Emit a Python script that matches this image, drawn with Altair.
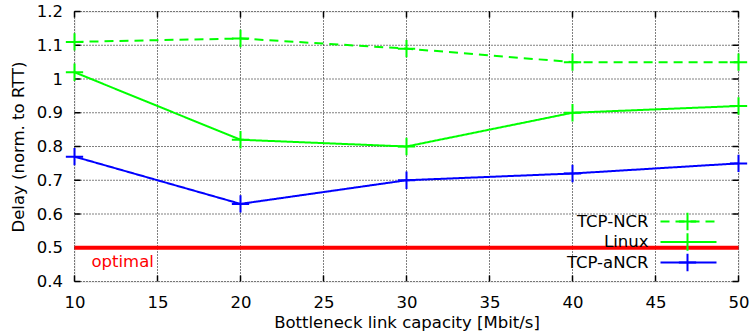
import altair as alt
import pandas as pd

# Bottleneck link capacities (Mbit/s)
capacity = [10, 20, 30, 40, 50]

# Mean delay normalised to RTT, per algorithm
tcp_ncr = [1.11, 1.12, 1.09, 1.05, 1.05]
linux = [1.02, 0.82, 0.80, 0.90, 0.92]
tcp_ancr = [0.77, 0.63, 0.70, 0.72, 0.75]

series_names = ["TCP-NCR", "Linux", "TCP-aNCR"]
series_colors = ["#00ff00", "#00ff00", "#0000ff"]
series_dash = [[9, 6], [1, 0], [1, 0]]

optimal = 0.5

x_ticks = [10, 15, 20, 25, 30, 35, 40, 45, 50]
y_ticks = [0.4, 0.5, 0.6, 0.7, 0.8, 0.9, 1.0, 1.1, 1.2]

W, H = 664, 270
FONT = "DejaVu Sans"
FS = 16.5

rows = []
for name, vals in zip(series_names, [tcp_ncr, linux, tcp_ancr]):
    for c, v in zip(capacity, vals):
        rows.append({"series": name, "capacity": c, "delay": v})
df = pd.DataFrame(rows)

xscale = alt.Scale(domain=[10, 50], nice=False, zero=False)
yscale = alt.Scale(domain=[0.4, 1.2], nice=False, zero=False)
color = alt.Color("series:N", scale=alt.Scale(domain=series_names, range=series_colors), legend=None)
dash = alt.StrokeDash("series:N", scale=alt.Scale(domain=series_names, range=series_dash), legend=None)

plus = "M-1,0L1,0M0,-1L0,1"

x_axis = alt.Axis(
    values=x_ticks, format="d", grid=False, ticks=False, domain=False, labelFont=FONT,
    labelFontSize=FS, labelColor="black", labelFlush=False, labelOverlap=False,
    labelPadding=13, title="Bottleneck link capacity [Mbit/s]", titleFont=FONT,
    titleFontSize=FS, titleFontWeight="normal", titleColor="black", titlePadding=3,
)
y_axis = alt.Axis(
    values=y_ticks, labelExpr="format(datum.value, '.1~f')", grid=False, ticks=False,
    domain=False, labelFont=FONT, labelFontSize=FS, labelColor="black", labelFlush=False,
    labelOverlap=False, labelPadding=12, title="Delay (norm. to RTT)", titleFont=FONT,
    titleFontSize=FS, titleFontWeight="normal", titleColor="black", titlePadding=10,
)

X = alt.X("capacity:Q", scale=xscale, axis=x_axis)
Y = alt.Y("delay:Q", scale=yscale, axis=y_axis)

base = alt.Chart(df)

xt = pd.DataFrame({"capacity": x_ticks})
yt = pd.DataFrame({"delay": y_ticks})

# Dotted grid at every major tick
GRID = dict(stroke="#000000", strokeWidth=1, strokeDash=[1, 2], strokeOpacity=1)
grid_x = alt.Chart(xt).mark_rule(**GRID).encode(x=X, y=alt.value(0), y2=alt.value(H))
grid_y = alt.Chart(yt).mark_rule(**GRID).encode(y=Y, x=alt.value(0), x2=alt.value(W))

# Inward tick marks on all four sides
TICK = dict(stroke="#000000", strokeWidth=1.5, strokeOpacity=1)
tick_bottom = alt.Chart(xt).mark_rule(**TICK).encode(x=X, y=alt.value(H), y2=alt.value(H - 6))
tick_top = alt.Chart(xt).mark_rule(**TICK).encode(x=X, y=alt.value(0), y2=alt.value(6))
tick_left = alt.Chart(yt).mark_rule(**TICK).encode(y=Y, x=alt.value(0), x2=alt.value(6))
tick_right = alt.Chart(yt).mark_rule(**TICK).encode(y=Y, x=alt.value(W), x2=alt.value(W - 6))

# Optimal reference line and its label
opt_df = pd.DataFrame({"delay": [optimal], "capacity": [10], "label": ["optimal"]})
opt_line = alt.Chart(opt_df).mark_rule(color="#ff0000", strokeWidth=4).encode(
    y=Y, x=alt.value(0), x2=alt.value(W))
opt_text = alt.Chart(opt_df).mark_text(
    color="#ff0000", font=FONT, fontSize=FS, align="left", baseline="middle", dx=17, dy=14
).encode(x=X, y=Y, text="label:N")

lines = base.mark_line(strokeWidth=2).encode(
    x=X, y=Y, color=color, strokeDash=dash, detail="series:N",
)
markers = base.mark_point(shape=plus, size=300, strokeWidth=2, filled=False, opacity=1).encode(
    x=X, y=Y, color=color,
)

# Key, drawn inside the plot at the lower right, one row per series
legend_rows = []
for i, (name, col, dsh) in enumerate(zip(series_names, series_colors, series_dash)):
    ypos = 210 + i * 20.5
    one = pd.DataFrame({"series": [name]})
    legend_rows.append(alt.Chart(one).mark_rule(strokeWidth=2, color=col, strokeDash=dsh).encode(
        x=alt.value(586), x2=alt.value(642), y=alt.value(ypos)))
    legend_rows.append(alt.Chart(one).mark_point(
        shape=plus, size=300, strokeWidth=2, filled=False, opacity=1, color=col
    ).encode(x=alt.value(613), y=alt.value(ypos)))
    legend_rows.append(alt.Chart(one).mark_text(
        font=FONT, fontSize=FS, align="right", baseline="middle", color="black"
    ).encode(x=alt.value(574), y=alt.value(ypos), text="series:N"))

chart = alt.layer(
    grid_x, grid_y, tick_bottom, tick_top, tick_left, tick_right,
    opt_line, opt_text, lines, markers,
    *legend_rows,
).properties(
    width=W, height=H,
    autosize=alt.AutoSizeParams(type="none"),
    padding={"left": 74.5, "top": 11.5, "right": 16.5, "bottom": 53.5},
).configure_view(stroke="black", strokeWidth=1.2).configure(background="white")

chart.save("out.html", embed_options={"renderer": "svg", "actions": False})
